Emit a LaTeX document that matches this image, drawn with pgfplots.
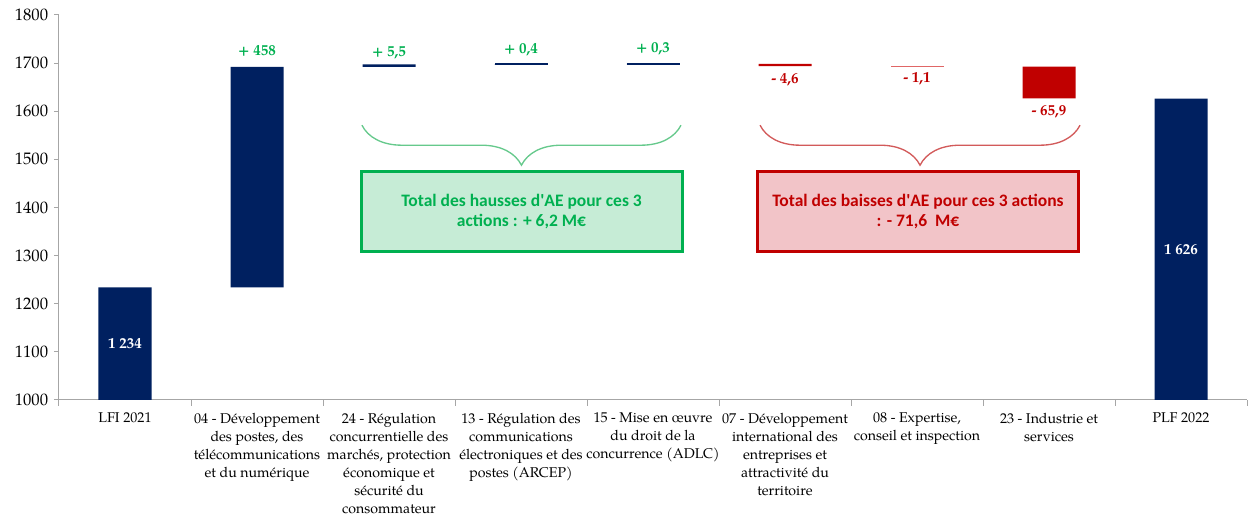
\documentclass[border=0pt]{standalone}
\usepackage{pgfplots}
\pgfplotsset{compat=1.18}
\usepackage{fontspec}
\setmainfont{TeX Gyre Pagella}
\newfontfamily\calib{Carlito}
\usetikzlibrary{calc,decorations.pathreplacing}

\definecolor{navy}{HTML}{002060}
\definecolor{dred}{HTML}{C00000}
\definecolor{lred}{HTML}{E06666}
\definecolor{lgreen}{HTML}{00B050}
\definecolor{gbrace}{HTML}{66C98C}
\definecolor{rbrace}{HTML}{D25A5A}
\definecolor{gfill}{HTML}{C6ECD6}
\definecolor{rfill}{HTML}{F2C4C8}
\definecolor{axisgray}{HTML}{A6A6A6}

\begin{document}
\begin{tikzpicture}
\begin{axis}[
  name=ax,
  scale only axis, width=712.8pt, height=231pt,
  ybar stacked, bar width=31.8pt,
  xmin=-0.5, xmax=8.5, ymin=1000, ymax=1800,
  xtick={0,...,8}, minor xtick={-0.5,0.5,...,8.5},
  xticklabels={
    LFI 2021,
    {04 - Développement\\des postes, des\\télécommunications\\et du numérique},
    {24 - Régulation\\concurrentielle des\\marchés, protection\\économique et\\sécurité du\\consommateur},
    {13 - Régulation des\\communications\\électroniques et des\\postes (ARCEP)},
    {15 - Mise en œuvre\\du droit de la\\concurrence (ADLC)},
    {07 - Développement\\international des\\entreprises et\\attractivité du\\territoire},
    {08 - Expertise,\\conseil et inspection},
    {23 - Industrie et\\services},
    PLF 2022},
  ytick={1000,1100,...,1800},
  axis x line*=bottom, axis y line*=left,
  axis line style={draw=axisgray, line width=0.6pt, -},
  tick align=outside,
  tick style={axisgray, line width=0.6pt},
  major x tick style={draw=none},
  major tick length=3pt, minor tick length=3.6pt,
  yticklabel style={font=\fontsize{10}{11}\selectfont},
  xticklabel style={font=\fontsize{8.5}{10.8}\selectfont, align=center, anchor=north, yshift=-1.2pt},
  /pgf/number format/1000 sep={},
  /pgf/number format/assume math mode=true,
]
% invisible base of the waterfall
\addplot[fill=none, draw=none, forget plot] coordinates {
  (0,0) (1,1234) (2,1692) (3,1697.5) (4,1697.9) (5,1693.6) (6,1692.5) (7,1626.6) (8,0)};
% totals
\addplot[fill=navy, draw=none] coordinates {
  (0,1234) (1,0) (2,0) (3,0) (4,0) (5,0) (6,0) (7,0) (8,1626)};
% increases
\addplot[fill=navy, draw=none] coordinates {
  (0,0) (1,458) (2,5.5) (3,0.4) (4,0.3) (5,0) (6,0) (7,0) (8,0)};
% decreases
\addplot[fill=dred, draw=none] coordinates {
  (0,0) (1,0) (2,0) (3,0) (4,0) (5,4.6) (6,0) (7,65.9) (8,0)};
\addplot[fill=lred, draw=none] coordinates {
  (0,0) (1,0) (2,0) (3,0) (4,0) (5,0) (6,1.1) (7,0) (8,0)};
% hairlines for the very small steps
\addplot[stack plots=false, only marks, mark=-, mark size=15.9pt,
  mark options={line width=0.9pt, navy}, forget plot] coordinates {
  (3,1697.7) (4,1698.05)};
\addplot[stack plots=false, only marks, mark=-, mark size=15.9pt,
  mark options={line width=0.9pt, lred}, forget plot] coordinates {
  (6,1693.05)};

% anchor points for the labels (bar ends)
\coordinate (u1) at (axis cs:1,1692);
\coordinate (u2) at (axis cs:2,1697.5);
\coordinate (u3) at (axis cs:3,1697.9);
\coordinate (u4) at (axis cs:4,1698.2);
\coordinate (d5) at (axis cs:5,1693.6);
\coordinate (d6) at (axis cs:6,1692.5);
\coordinate (d7) at (axis cs:7,1626.6);
\coordinate (t0) at (axis cs:0,1117);
\coordinate (t8) at (axis cs:8,1313);
\coordinate (gb1) at (axis cs:1.795,1571);
\coordinate (gb2) at (axis cs:4.212,1571);
\coordinate (rb1) at (axis cs:4.811,1571);
\coordinate (rb2) at (axis cs:7.235,1571);
\coordinate (g1) at (axis cs:1.788,1309.6);
\coordinate (g2) at (axis cs:4.220,1473.8);
\coordinate (r1) at (axis cs:4.795,1309.6);
\coordinate (r2) at (axis cs:7.220,1473.8);
\end{axis}

\begin{scope}[every node/.style={font=\bfseries\fontsize{9}{10}\selectfont}]
\node[text=lgreen, yshift=9.6pt] at (u1) {+ 458};
\node[text=lgreen, yshift=7.2pt] at (u2) {+ 5,5};
\node[text=lgreen, yshift=8.6pt] at (u3) {+ 0,4};
\node[text=lgreen, yshift=9.2pt] at (u4) {+ 0,3};
\node[text=dred, yshift=-8.4pt] at (d5) {- 4,6};
\node[text=dred, yshift=-7.2pt] at (d6) {- 1,1};
\node[text=dred, yshift=-8.2pt] at (d7) {- 65,9};
\node[text=white] at (t0) {1 234};
\node[text=white] at (t8) {1 626};
\end{scope}

\draw[gbrace, line width=0.8pt, decorate, decoration={brace, mirror, amplitude=24pt}] (gb1) -- (gb2);
\draw[rbrace, line width=0.8pt, decorate, decoration={brace, mirror, amplitude=24pt}] (rb1) -- (rb2);

\draw[draw=lgreen, line width=1.8pt, fill=gfill] (g1) rectangle (g2);
\node[text=lgreen, font=\calib\bfseries\fontsize{10.5}{12.4}\selectfont, align=center]
  at ($(g1)!0.5!(g2)$) {Total des hausses d\textquotesingle AE pour ces 3\\actions : + 6,2 M€};
\draw[draw=dred, line width=1.8pt, fill=rfill] (r1) rectangle (r2);
\node[text=dred, font=\calib\bfseries\fontsize{10.5}{12.4}\selectfont, align=center]
  at ($(r1)!0.5!(r2)$) {Total des baisses d\textquotesingle AE pour ces 3 actions\\: - 71,6 \ M€};

\pgfresetboundingbox
\path[use as bounding box] ($(ax.south west)+(-35.4pt,-69pt)$) rectangle ($(ax.north east)+(5.4pt,9pt)$);
\end{tikzpicture}
\end{document}
